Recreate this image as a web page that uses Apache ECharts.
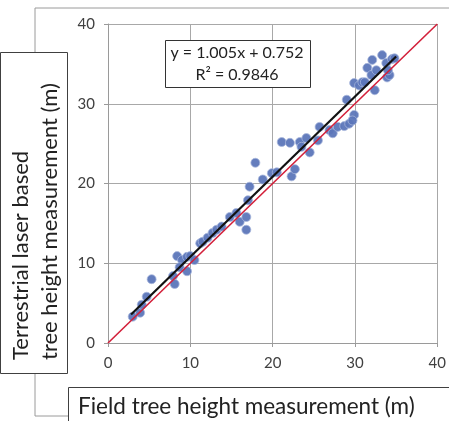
<!DOCTYPE html>
<html>
<head>
<meta charset="utf-8">
<script src="https://cdn.jsdelivr.net/npm/echarts@6/dist/echarts.min.js"></script>
<style>
html,body{margin:0;padding:0;background:#fff;}
#c{width:449px;height:421px;}
</style>
</head>
<body>
<div id="c"></div>
<script>
// ---- data ----
var fieldHeight = [3.0,3.9,4.1,4.7,5.3,7.9,8.1,8.4,9.0,8.7,9.6,9.6,10.0,10.5,11.2,11.5,12.1,12.7,13.2,13.8,14.8,15.6,16.0,16.8,16.8,17.2,17.0,17.9,18.8,19.9,20.5,22.3,22.7,21.1,22.1,23.3,23.5,24.1,24.5,25.5,25.7,26.9,27.3,27.9,28.7,29.3,29.9,29.0,29.7,29.9,30.5,30.9,31.2,31.5,32.0,32.1,32.4,32.6,33.3,33.8,33.9,34.2,34.5,34.0,34.8];
var tlsHeight   = [3.3,3.8,4.8,5.8,8.0,8.4,7.4,10.9,10.4,9.5,9.0,10.8,10.9,10.4,12.5,12.7,13.2,13.8,14.2,14.6,15.8,16.3,15.2,15.8,14.2,19.6,17.9,22.6,20.5,21.3,21.4,20.9,21.8,25.2,25.1,25.2,24.6,25.7,23.9,25.4,27.1,26.7,26.3,27.1,27.2,27.5,28.6,30.5,27.9,32.6,32.3,32.7,32.7,34.5,33.6,35.5,31.7,34.2,36.1,35.1,33.3,33.6,35.6,34.2,35.7];
var axisTicks = [0, 10, 20, 30, 40];
var trendSlope = 1.005, trendIntercept = 0.752, rSquared = 0.9846;
var trendRangeX = [2.8, 35.0];
var oneToOneX = [0, 40];
var eqLine1 = 'y = 1.005x + 0.752';
var eqLine2 = 'R² = 0.9846';
var yTitle1 = 'Terrestrial laser based';
var yTitle2 = 'tree height measurement (m)';
var xTitle = 'Field tree height measurement (m)';

var pts = fieldHeight.map(function(x,i){return [x, tlsHeight[i]];});
var trend = trendRangeX.map(function(x){return [x, trendSlope*x + trendIntercept];});
var oneToOne = oneToOneX.map(function(x){return [x, x];});

var FONT = 'Lato';
var chart = echarts.init(document.getElementById('c'), null, {renderer:'canvas'});
var axisCommon = {
  type:'value', min:axisTicks[0], max:axisTicks[axisTicks.length-1], interval:10,
  axisLine:{show:true, lineStyle:{color:'#9a9a9a', width:1}},
  axisTick:{show:true, length:4, lineStyle:{color:'#9a9a9a'}},
  splitLine:{show:true, lineStyle:{color:'#a8a8a8', width:1}},
  axisLabel:{color:'#404040', fontSize:15, fontFamily:FONT}
};
chart.setOption({
  animation:false,
  backgroundColor:'#ffffff',
  grid:{left:108, right:11, top:24, bottom:78, containLabel:false},
  xAxis: Object.assign({}, axisCommon, {axisLabel:Object.assign({}, axisCommon.axisLabel, {margin:13})}),
  yAxis: Object.assign({}, axisCommon, {axisLabel:Object.assign({}, axisCommon.axisLabel, {margin:13})}),
  series:[
    {type:'scatter', data:pts, symbolSize:9, z:2,
     itemStyle:{color:'#5c76b9', borderColor:'#a9b7dc', borderWidth:0.8, opacity:0.95}},
    {type:'line', data:oneToOne, symbol:'none', z:3, lineStyle:{color:'#d3203a', width:1.6}},
    {type:'line', data:trend, symbol:'none', z:4, lineStyle:{color:'#111111', width:2.2}}
  ],
  graphic:[
    // outer frame lines
    {type:'polyline', shape:{points:[[35,52],[35,8],[449,8]]}, style:{stroke:'#9a9a9a', lineWidth:1, fill:null}},
    {type:'polyline', shape:{points:[[35,374],[35,416],[68,416]]}, style:{stroke:'#9a9a9a', lineWidth:1, fill:null}},
    // y title box
    {type:'rect', shape:{x:0.5, y:52.5, width:67, height:321}, style:{fill:'#ffffff', stroke:'#404040', lineWidth:1}},
    {type:'text', x:21, y:360, rotation:Math.PI/2,
     style:{text:yTitle1, font:'22px '+FONT, fill:'#222', align:'left', verticalAlign:'middle'}},
    {type:'text', x:50, y:360, rotation:Math.PI/2,
     style:{text:yTitle2, font:'22px '+FONT, fill:'#222', align:'left', verticalAlign:'middle'}},
    // x title box
    {type:'rect', shape:{x:68.5, y:387.5, width:400, height:60}, style:{fill:'#ffffff', stroke:'#404040', lineWidth:1}},
    {type:'text', x:78, y:407,
     style:{text:xTitle, font:'22.5px '+FONT, fill:'#222', align:'left', verticalAlign:'middle'}},
    // equation box
    {type:'rect', z:10, shape:{x:165.5, y:40.5, width:145, height:47}, style:{fill:'#ffffff', stroke:'#333333', lineWidth:1}},
    {type:'text', z:11, x:237, y:53,
     style:{text:eqLine1, font:'16px '+FONT, fill:'#222', align:'center', verticalAlign:'middle'}},
    {type:'text', z:11, x:237, y:75,
     style:{text:eqLine2, font:'16px '+FONT, fill:'#222', align:'center', verticalAlign:'middle'}}
  ]
});
</script>
</body>
</html>
